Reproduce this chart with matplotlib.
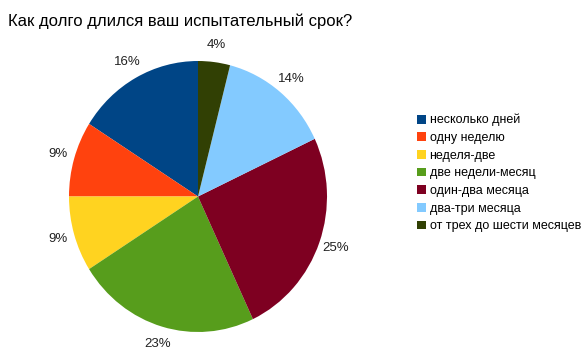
import matplotlib
matplotlib.use('Agg')
import matplotlib.pyplot as plt
from matplotlib.patches import Patch

plt.rcParams['font.family'] = ['Liberation Sans', 'DejaVu Sans']

# данные
categories = ['несколько дней', 'одну неделю', 'неделя-две', 'две недели-месяц',
              'один-два месяца', 'два-три месяца', 'от трех до шести месяцев']
values = [16, 9, 9, 23, 25, 14, 4]
colors = ['#004586', '#ff420e', '#ffd320', '#579d1c', '#7e0021', '#83caff', '#314004']
pct_labels = [f'{v}%' for v in values]

fig = plt.figure(figsize=(5.85, 3.53), dpi=100)

# круг (слегка сжат по горизонтали, как в оригинале): центр (198,197)
ax = fig.add_axes([(198 - 129) / 585, (353 - 332) / 353, 258 / 585, 271 / 353])
wedges, texts = ax.pie(values, colors=colors, labels=pct_labels, startangle=90,
                       counterclock=True, labeldistance=1.13,
                       textprops={'fontsize': 9.5, 'color': '#222222'})
for t in texts:
    t.set_ha('center')
    t.set_va('center')
ax.set_xlim(-1, 1)
ax.set_ylim(-1, 1)
ax.set_aspect('auto')

fig.text(8 / 585, 1 - 21 / 353, 'Как долго длился ваш испытательный срок?',
         fontsize=12, va='center', ha='left')

handles = [Patch(facecolor=c, edgecolor='none') for c in colors]
fig.legend(handles, categories, loc='upper left', bbox_to_anchor=(412 / 585, 1 - 109 / 353),
           frameon=False, fontsize=9, handlelength=0.7, handleheight=0.7,
           handletextpad=0.3, labelspacing=0.45, borderaxespad=0)

fig.savefig('out.png', dpi=100)
